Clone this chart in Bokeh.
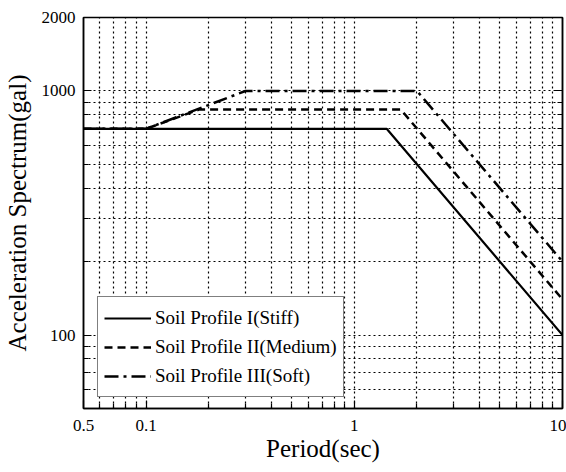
from bokeh.plotting import figure
from bokeh.models import (FixedTicker, LogAxis, Legend, LegendItem,
                          CustomJSTickFormatter, Range1d)
from bokeh.embed import file_html
from bokeh.resources import INLINE

# ---- data ----
periods_I = [0.05, 1.43, 10]
sa_I = [700, 700, 100]
periods_II = [0.05, 0.1, 0.18, 1.67, 10]
sa_II = [700, 700, 840, 840, 140]
periods_III = [0.05, 0.1, 0.3, 2.0, 10]
sa_III = [700, 700, 1000, 1000, 200]

labels = ["Soil Profile I(Stiff)", "Soil Profile II(Medium)", "Soil Profile III(Soft)"]

x_major = [0.05, 0.1, 1, 10]
x_labels = ["0.5", "0.1", "1", "10"]
x_minor = [0.06, 0.07, 0.08, 0.09, 0.2, 0.3, 0.4, 0.5, 0.6, 0.7, 0.8, 0.9,
           2, 3, 4, 5, 6, 7, 8, 9]
y_major = [100, 1000, 2000]
y_labels = ["100", "1000", "2000"]
y_minor = [60, 70, 80, 90, 200, 300, 400, 500, 600, 700, 800, 900]

FONT = "Liberation Serif"

p = figure(x_axis_type="log", y_axis_type="log",
           x_range=Range1d(0.05, 10), y_range=Range1d(50, 2000),
           frame_width=479, frame_height=391,
           min_border_left=82, min_border_right=4, min_border_top=17, min_border_bottom=60,
           output_backend="svg", toolbar_location=None,
           background_fill_color="white", border_fill_color="white")

p.outline_line_color = "black"
p.outline_line_width = 1.5

def fmt(vals, labs):
    return CustomJSTickFormatter(args=dict(vals=vals, labs=labs), code="""
        for (let i = 0; i < vals.length; i++) {
            if (Math.abs(vals[i] - tick) < 1e-9 * Math.max(1, Math.abs(vals[i]))) return labs[i];
        }
        return '';
    """)

xt = FixedTicker(ticks=x_major, minor_ticks=x_minor)
yt = FixedTicker(ticks=y_major, minor_ticks=y_minor)

xa = p.xaxis[0]
xa.ticker = xt
xa.formatter = fmt(x_major, x_labels)
ya = p.yaxis[0]
ya.ticker = yt
ya.formatter = fmt(y_major, y_labels)

for ax in (xa, ya):
    ax.axis_line_color = "black"
    ax.axis_line_width = 1.5
    ax.major_tick_in = 8
    ax.major_tick_out = 0
    ax.minor_tick_in = 5
    ax.minor_tick_out = 0
    ax.major_tick_line_color = "black"
    ax.minor_tick_line_color = "black"
    ax.major_tick_line_width = 1.2
    ax.minor_tick_line_width = 1.2
    ax.major_label_text_font = FONT
    ax.major_label_text_font_size = "17px"
    ax.major_label_text_color = "black"
    ax.axis_label_text_font = FONT
    ax.axis_label_text_font_size = "25px"
    ax.axis_label_text_font_style = "normal"
    ax.axis_label_text_color = "black"

xa.axis_label = "Period(sec)"
xa.major_label_standoff = 11
xa.axis_label_standoff = 1
ya.axis_label = "Acceleration Spectrum(gal)"
ya.major_label_standoff = 8
ya.axis_label_standoff = 8
ya.major_label_orientation = "horizontal"

ra = LogAxis(ticker=FixedTicker(ticks=y_major, minor_ticks=y_minor),
             formatter=CustomJSTickFormatter(code="return '';"),
             major_tick_in=8, major_tick_out=0, minor_tick_in=5, minor_tick_out=0,
             major_label_standoff=0, axis_line_width=1.5,
             major_tick_line_width=1.2, minor_tick_line_width=1.2,
             major_label_text_font_size="1px")
p.add_layout(ra, "right")

for g, t in ((p.xgrid[0], xt), (p.ygrid[0], yt)):
    g.ticker = t
    g.grid_line_color = "black"
    g.grid_line_dash = "2 3"
    g.grid_line_width = 1.2
    g.minor_grid_line_color = "black"
    g.minor_grid_line_dash = "2 3"
    g.minor_grid_line_width = 1.2

r1 = p.line(periods_I, sa_I, line_color="black", line_width=2.2)
r2 = p.line(periods_II, sa_II, line_color="black", line_width=2.5, line_dash="8 5")
r3 = p.line(periods_III, sa_III, line_color="black", line_width=2.5, line_dash="14 5 3 5")

legend = Legend(items=[LegendItem(label=labels[0], renderers=[r1]),
                       LegendItem(label=labels[1], renderers=[r2]),
                       LegendItem(label=labels[2], renderers=[r3])],
                location=(14, 11), glyph_width=47, glyph_height=20,
                label_height=29, spacing=0, padding=6, margin=0,
                label_standoff=4,
                label_text_font=FONT, label_text_font_size="19px",
                label_text_color="black",
                border_line_color="black", border_line_width=1.5,
                background_fill_color="white", background_fill_alpha=1.0)
p.add_layout(legend, "center")

open("out.html", "w").write(file_html(p, INLINE))
